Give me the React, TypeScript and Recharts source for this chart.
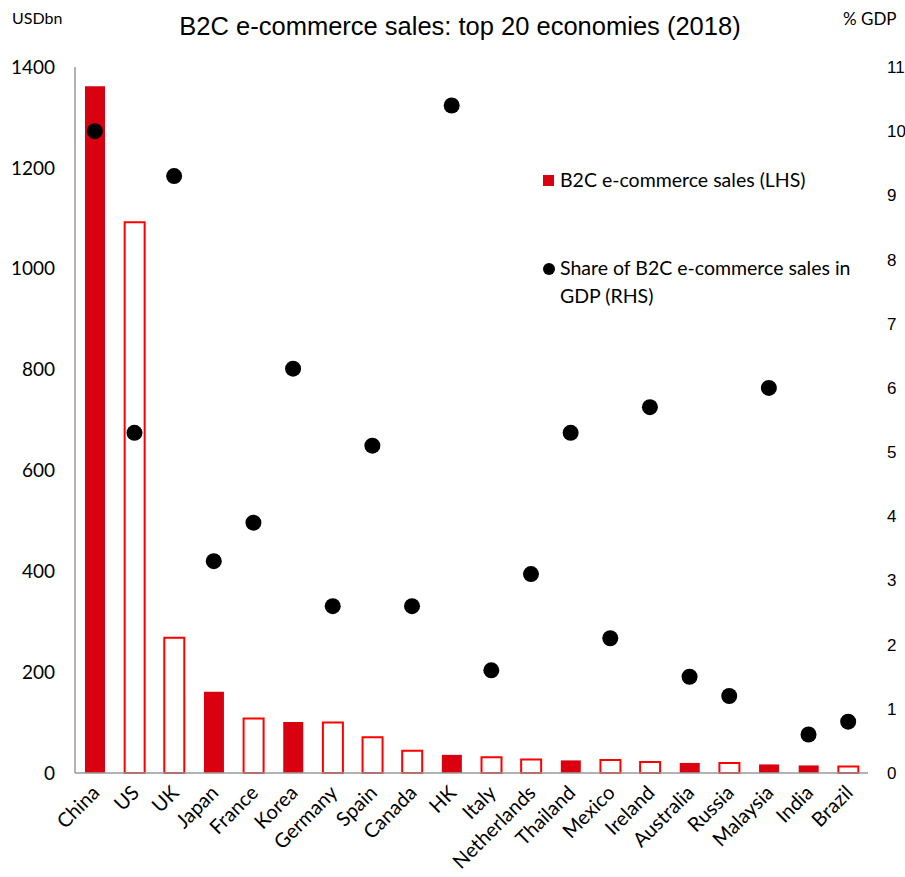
import { ComposedChart, Bar, Scatter, XAxis, YAxis, Cell } from 'recharts'

const economies = ['China', 'US', 'UK', 'Japan', 'France', 'Korea', 'Germany', 'Spain', 'Canada', 'HK',
  'Italy', 'Netherlands', 'Thailand', 'Mexico', 'Ireland', 'Australia', 'Russia', 'Malaysia', 'India', 'Brazil']
const salesUsdBn = [1362, 1092, 268, 161, 108, 101, 100, 71, 44, 36, 31, 27, 25, 26, 22, 20, 20, 17, 15, 13]
const shareGdp = [10.0, 5.3, 9.3, 3.3, 3.9, 6.3, 2.6, 5.1, 2.6, 10.4, 1.6, 3.1, 5.3, 2.1, 5.7, 1.5, 1.2, 6.0, 0.6, 0.8]
const filled = [true, false, false, true, false, true, false, false, false, true,
  false, false, true, false, false, true, false, true, true, false]
const leftTicks = [0, 200, 400, 600, 800, 1000, 1200, 1400]
const rightTicks = [0, 1, 2, 3, 4, 5, 6, 7, 8, 9, 10, 11]

const data = economies.map((name, i) => ({ name, sales: salesUsdBn[i], share: shareGdp[i] }))

const RED = '#d9000f'
const BODY = 'Lato, sans-serif'
const ARIAL = '"Liberation Sans", Arial, sans-serif'

function CategoryTick({ x, y, payload }: any) {
  const tx = x + 6
  const ty = y + 13
  return (
    <text x={tx} y={ty} transform={`rotate(-45, ${tx}, ${ty})`} textAnchor="end"
      fontFamily={BODY} fontSize={20} fill="#000">
      {payload.value}
    </text>
  )
}

function LegendBox() {
  return (
    <div style={{ position: 'absolute', left: 543, top: 166, width: 360, fontFamily: BODY, fontSize: 19.5, color: '#000', lineHeight: '28px' }}>
      <div style={{ display: 'flex', alignItems: 'center' }}>
        <span style={{ width: 11, height: 11, background: RED, display: 'inline-block', marginRight: 6 }} />
        B2C e-commerce sales (LHS)
      </div>
      <div style={{ display: 'flex', alignItems: 'flex-start', marginTop: 60 }}>
        <span style={{ width: 12, height: 12, borderRadius: 6, background: '#000', display: 'inline-block', marginRight: 5, marginTop: 9 }} />
        <span>Share of B2C e-commerce sales in<br />GDP (RHS)</span>
      </div>
    </div>
  )
}

export default function App() {
  return (
    <div style={{ position: 'absolute', left: 0, top: 0, width: 905, height: 877, background: '#fff', overflow: 'hidden' }}>
      <div style={{ position: 'absolute', left: 12, top: 8, fontFamily: BODY, fontSize: 16 }}>USDbn</div>
      <div style={{ position: 'absolute', left: 843, top: 8, fontFamily: BODY, fontSize: 17 }}>% GDP</div>
      <div style={{ position: 'absolute', left: 0, width: 920, top: 12, textAlign: 'center', fontFamily: ARIAL, fontSize: 25.5 }}>
        B2C e-commerce sales: top 20 economies (2018)
      </div>
      <ComposedChart width={905} height={877} data={data} margin={{ top: 67, right: 0, bottom: 0, left: 0 }}>
        <XAxis dataKey="name" height={104} tick={<CategoryTick />} tickLine={false} interval={0}
          axisLine={{ stroke: '#999', strokeWidth: 1.5 }} />
        <YAxis yAxisId="left" width={75} domain={[0, 1400]} ticks={leftTicks} tickLine={false} tickMargin={14}
          axisLine={{ stroke: '#999', strokeWidth: 1.5 }} tick={{ fontFamily: BODY, fontSize: 19, fill: '#000' }} />
        <YAxis yAxisId="right" orientation="right" width={37} domain={[0, 11]} ticks={rightTicks} tickLine={false}
          axisLine={false} tickMargin={13} tick={{ fontFamily: ARIAL, fontSize: 17, fill: '#000', textAnchor: 'start' }} />
        <Bar yAxisId="left" dataKey="sales" barSize={20} isAnimationActive={false}>
          {data.map((d, i) => (
            <Cell key={d.name} fill={filled[i] ? RED : '#fff'} stroke={filled[i] ? 'none' : '#ff0000'} strokeWidth={2} />
          ))}
        </Bar>
        <Scatter yAxisId="right" dataKey="share" isAnimationActive={false}
          shape={(p: any) => <circle cx={p.cx} cy={p.cy} r={8} fill="#000" />} />
      </ComposedChart>
      <LegendBox />
    </div>
  )
}
